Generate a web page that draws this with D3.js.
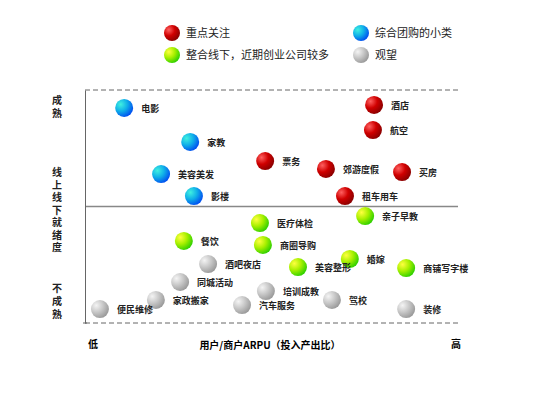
<!DOCTYPE html>
<html><head><meta charset="utf-8">
<script src="https://cdn.jsdelivr.net/npm/d3@7"></script>
<style>body{margin:0;background:#fff}text{font-family:"Noto Sans CJK SC",sans-serif}</style>
</head><body><div id="chart"></div>
<script>
// categories and their positions (ARPU, readiness)
var names = ["电影","家教","美容美发","影楼","票务","酒店","航空","郊游度假","买房","租车用车",
  "医疗体检","亲子早教","餐饮","商圈导购","婚嫁","美容整形","商铺写字楼",
  "酒吧夜店","同城活动","培训成教","家政搬家","驾校","汽车服务","便民维修","装修"];
var arpu = [10.5,28.2,20.4,29.2,48.3,77.5,77.2,64.6,85.0,69.7,46.9,75.1,26.5,47.7,71.0,57.1,86.1,33.0,25.5,48.5,19.0,66.2,42.1,4.0,86.1];
var ready = [92.3,77.7,63.9,54.5,69.5,93.6,82.8,66.1,64.8,54.5,42.9,45.9,35.2,33.5,27.5,24.0,23.6,25.3,17.6,13.7,9.9,9.9,7.7,6.0,6.0];
var groups = ["blue","blue","blue","blue","red","red","red","red","red","red",
  "green","green","green","green","green","green","green","gray","gray","gray","gray","gray","gray","gray","gray"];
var legendNames = ["重点关注","整合线下，近期创业公司较多","综合团购的小类","观望"];
var legendGroups = ["red","green","blue","gray"];

var svg = d3.select("#chart").append("svg").attr("width",560).attr("height",402);
var defs = svg.append("defs");
var cols = {red:["#ff6060","#d00000","#8a0000"], green:["#ffff40","#a8f000","#30d000"],
  blue:["#40f0e0","#10b0e8","#0050f0"], gray:["#f4f4f4","#c8c8c8","#9a9a9a"]};
Object.keys(cols).forEach(function(k){
  var g = defs.append("radialGradient").attr("id","g"+k).attr("cx","30%").attr("cy","30%").attr("r","75%");
  g.append("stop").attr("offset","0%").attr("stop-color",cols[k][0]);
  g.append("stop").attr("offset","50%").attr("stop-color",cols[k][1]);
  g.append("stop").attr("offset","100%").attr("stop-color",cols[k][2]);
});

var x = d3.scaleLinear().domain([0,100]).range([85,458]);
var y = d3.scaleLinear().domain([0,100]).range([323,90]);

// frame
svg.append("line").attr("x1",x(0)).attr("x2",x(100)).attr("y1",y(100)).attr("y2",y(100))
  .attr("stroke","#666").attr("stroke-dasharray","5,3");
svg.append("line").attr("x1",x(0)).attr("x2",x(100)).attr("y1",y(0)).attr("y2",y(0))
  .attr("stroke","#666").attr("stroke-dasharray","5,3");
svg.append("line").attr("x1",x(0)).attr("x2",x(100)).attr("y1",y(50)).attr("y2",y(50))
  .attr("stroke","#888").attr("stroke-width",1.5);
svg.append("g").attr("transform","translate("+x(0)+",0)")
  .call(d3.axisLeft(y).tickValues([0]).tickSize(0).tickFormat(""))
  .select(".domain").attr("stroke","#666");
svg.append("line").attr("x1",x(0)-2).attr("x2",x(0)+2).attr("y1",y(0)).attr("y2",y(0)).attr("stroke","#666");

// points
var pts = svg.selectAll("g.pt").data(names).enter().append("g").attr("class","pt");
pts.append("circle").attr("cx",(d,i)=>x(arpu[i])).attr("cy",(d,i)=>y(ready[i])).attr("r",9)
  .attr("fill",(d,i)=>"url(#g"+groups[i]+")");
pts.append("text").attr("x",(d,i)=>x(arpu[i])+17).attr("y",(d,i)=>y(ready[i])+4)
  .attr("font-size",9).attr("font-weight","bold").attr("fill","#222").text(d=>d);

// legend
var lx = [172,172,361,361], ly = [33,55,33,55];
legendNames.forEach(function(n,i){
  svg.append("circle").attr("cx",lx[i]).attr("cy",ly[i]).attr("r",8).attr("fill","url(#g"+legendGroups[i]+")");
  svg.append("text").attr("x",lx[i]+14).attr("y",ly[i]+4).attr("font-size",11).attr("fill","#222").text(n);
});

// axis labels
function vtext(str,cx,y0,step){
  str.split("").forEach(function(c,i){
    svg.append("text").attr("x",cx).attr("y",y0+i*step).attr("text-anchor","middle")
      .attr("font-size",10).attr("font-weight","bold").attr("fill","#222").text(c);
  });
}
vtext("成熟",57,104,13);
vtext("线上线下就绪度",57,176,12.5);
vtext("不成熟",57,292,13);
svg.append("text").attr("x",88).attr("y",348).attr("font-size",10).attr("font-weight","bold").text("低");
svg.append("text").attr("x",451).attr("y",348).attr("font-size",10).attr("font-weight","bold").text("高");
svg.append("text").attr("x",270).attr("y",349).attr("text-anchor","middle").attr("font-size",10)
  .attr("font-weight","bold").text("用户/商户ARPU（投入产出比）");
</script></body></html>
